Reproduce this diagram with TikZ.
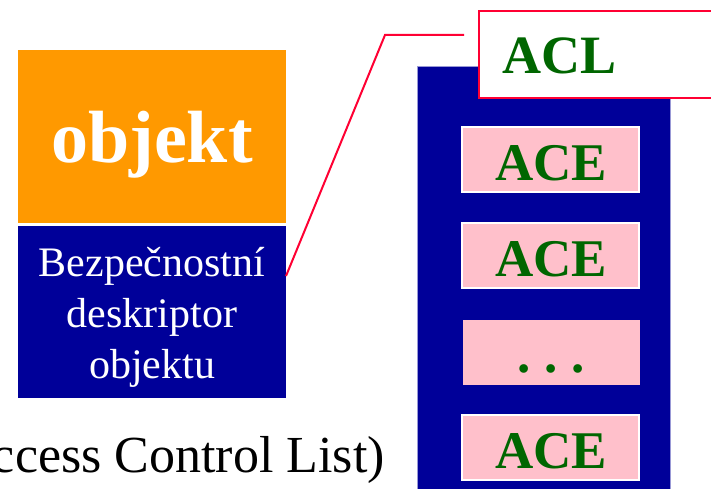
\documentclass[tikz,border=0pt]{standalone}
\usepackage{fontspec}
\setmainfont{Liberation Serif}
\definecolor{objorange}{HTML}{FF9900}
\definecolor{darkblue}{HTML}{000099}
\definecolor{acepink}{HTML}{FFC0CB}
\definecolor{acegreen}{HTML}{006600}
\definecolor{linered}{HTML}{FF0033}
\tikzset{
  box/.style={inner sep=0pt, outer sep=0pt, anchor=north west},
  acebox/.style={box, fill=acepink, draw=white, line width=1.5pt, minimum width=177pt, minimum height=65pt},
  acetext/.style={text=acegreen, font=\fontsize{53}{60}\selectfont\bfseries},
}
\begin{document}
\begin{tikzpicture}[x=1pt,y=-1pt]
\useasboundingbox (0,0) rectangle (711,489);
% left object
\node[box, fill=objorange, draw=white, line width=0.8pt, minimum width=269pt, minimum height=174pt] (obj) at (17,49) {};
\node[text=white, font=\fontsize{74}{80}\selectfont\bfseries, anchor=base] (objt) at (152,163) {objekt};
\node[box, fill=darkblue, draw=white, line width=0.8pt, minimum width=269pt, minimum height=173pt] (desc) at (17,225) {};
\node[text=white, font=\fontsize{42}{51}\selectfont, anchor=base, align=center] (d1) at (152,276) {Bezpečnostní};
\node[text=white, font=\fontsize{42}{51}\selectfont, anchor=base] (d2) at (152,327) {deskriptor};
\node[text=white, font=\fontsize{42}{51}\selectfont, anchor=base] (d3) at (152,378) {objektu};
% ACL column
\node[box, fill=darkblue, draw=darkblue!40, line width=0.5pt, minimum width=253pt, minimum height=430pt] (col) at (417,66) {};
\node[acebox] (a1) at (462,127) {};
\node[acetext, anchor=base] at (551,180) {ACE};
\node[acebox] (a2) at (462,223) {};
\node[acetext, anchor=base] at (551,276) {ACE};
\node[box, fill=acepink, minimum width=177pt, minimum height=65pt] (a3) at (463,320) {};
\node[acetext, anchor=base] at (551,372) {.\hspace{14pt}.\hspace{14pt}.};
\node[acebox] (a4) at (462,415) {};
\node[acetext, anchor=base] at (551,468) {ACE};
% ACL label box
\node[box, fill=white, draw=linered, line width=2pt, minimum width=250pt, minimum height=87pt] (acl) at (479,11) {};
\node[text=acegreen, font=\fontsize{54}{60}\selectfont\bfseries, anchor=base west] (aclt) at (499,74) {ACL};
% connector
\coordinate (c0) at (286,276);
\coordinate (c1) at (385,35);
\coordinate (c2) at (464,35);
\draw[linered, line width=2pt] (c0) -- (c1) -- (c2);
% bottom text
\node[font=\fontsize{52}{60}\selectfont, anchor=base east, inner sep=0pt] (cap) at (385,472) {ccess Control List)};
\end{tikzpicture}
\end{document}
